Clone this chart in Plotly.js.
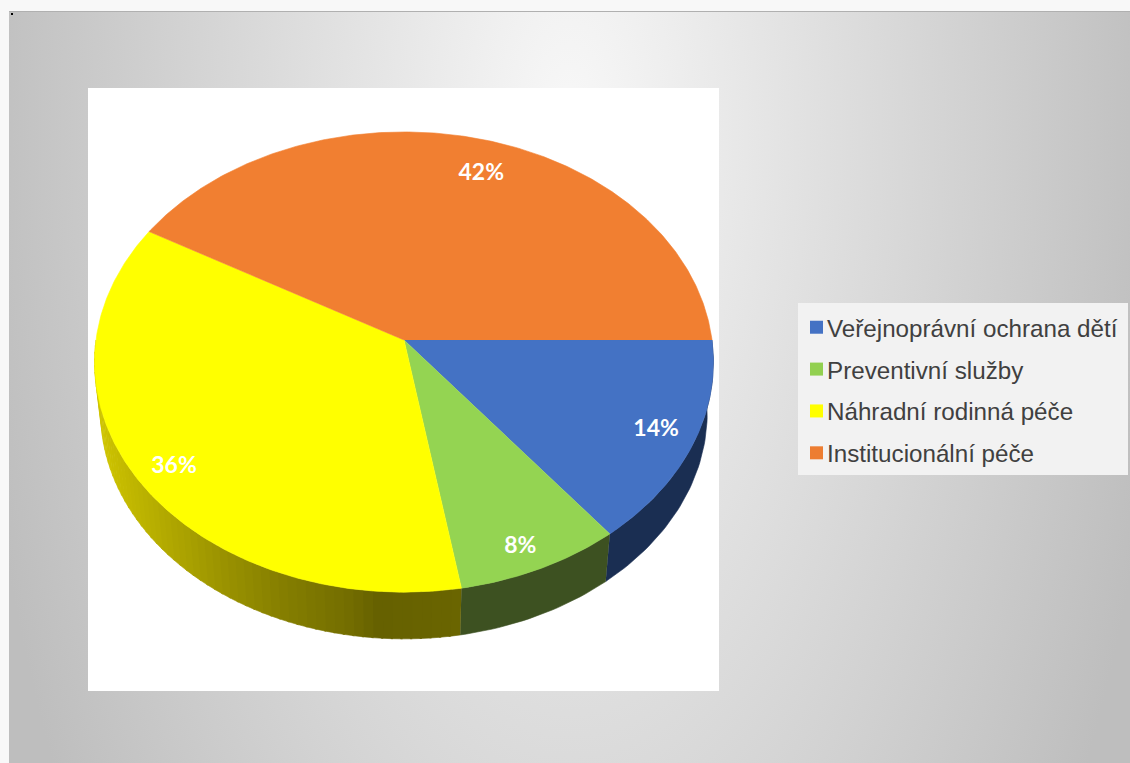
<!DOCTYPE html>
<html lang="cs">
<head>
<meta charset="utf-8">
<script src="https://cdn.plot.ly/plotly-3.0.1.min.js"></script>
<style>
html,body{margin:0;padding:0;background:#f8f8f8;width:1130px;height:763px;overflow:hidden}
#bg{position:absolute;left:9px;top:11px;width:1121px;height:752px;border-top:1px solid #b0b0b0;box-sizing:border-box;
background:radial-gradient(ellipse 600px 1250px at 561px 119px,#f8f8f8 0%,#bebebe 100%)}
#dot{position:absolute;left:11px;top:13px;width:2px;height:2px;background:#000}
#chart{position:absolute;left:0;top:0;width:1130px;height:763px}
</style>
</head>
<body>
<div id="bg"></div><div id="dot"></div><div id="chart"></div>
<script>
// Data
var categories = ['Veřejnoprávní ochrana dětí','Preventivní služby','Náhradní rodinná péče','Institucionální péče'];
var shares = [14.4, 7.9, 36.0, 41.7];
// Styles
var topColors = ['#4472c4','#94d452','#ffff00','#f17f31'];
var legendColors = ['#4472c4','#92d050','#ffff00','#ed7d31'];
var wallColors = ['#1a2e52','#3d5121',null,null];
var yellowWallX = [95,140,223,290,350,377,461];
var yellowWallLevel = [210,190,155,131,115,102,106];
var labelNudgeX = [5,0,-2,14];
var labelNudgeY = [1,13,9,10];

// Perspective of the pie disc
var cx=404, cy=340, f=308, g=228, k=0.0958;
var rimScale=0.98, rimY=0.983, rimShift=51;
function disc(t,r){var X=r*Math.cos(t),Y=r*Math.sin(t),d=1-k*Y;return [cx+f*X/d,cy+g*Y/d];}
function rim(t){var p=disc(t,1);return [cx+rimScale*(p[0]-cx),cy+rimY*(p[1]-cy)+rimShift];}
function level(x){
  for(var i=1;i<yellowWallX.length;i++){ if(x<=yellowWallX[i]){
    var a=(x-yellowWallX[i-1])/(yellowWallX[i]-yellowWallX[i-1]);
    return yellowWallLevel[i-1]+a*(yellowWallLevel[i]-yellowWallLevel[i-1]); } }
  return yellowWallLevel[yellowWallLevel.length-1];
}
var total=shares.reduce(function(a,b){return a+b;},0), bounds=[0];
shares.forEach(function(v){bounds.push(bounds[bounds.length-1]+v/total*2*Math.PI);});

var traces=[];
function poly(xy,color){
  traces.push({type:'scatter',mode:'lines',x:xy.map(function(p){return p[0];}),y:xy.map(function(p){return p[1];}),
    fill:'toself',fillcolor:color,line:{width:0.6,color:color},hoverinfo:'skip',showlegend:false});
}
function wall(t0,t1,color){
  var up=[],down=[],n=Math.max(2,Math.ceil((t1-t0)/0.02));
  for(var i=0;i<=n;i++){var t=t0+(t1-t0)*i/n;up.push(disc(t,1));down.unshift(rim(t));}
  poly(up.concat(down),color);
}
// Side wall: visible front half of the disc
var end=Math.PI;
shares.forEach(function(v,i){
  var a=bounds[i],b=Math.min(bounds[i+1],end);
  if(a>=end) return;
  if(wallColors[i]){wall(a,b,wallColors[i]);}
  else{
    var steps=60;
    for(var s=0;s<steps;s++){
      var t0=a+(b-a)*s/steps,t1=a+(b-a)*(s+1.2)/steps;
      var l=Math.round(level(rim((t0+t1)/2)[0]));
      wall(t0,Math.min(t1,b),'rgb('+l+','+Math.round(l*0.95)+',0)');
    }
  }
});
// Top faces
shares.forEach(function(v,i){
  var pts=[[cx,cy]],a=bounds[i],b=bounds[i+1],n=Math.ceil((b-a)/0.01);
  for(var j=0;j<=n;j++){pts.push(disc(a+(b-a)*j/n,1));}
  poly(pts,topColors[i]);
});
// Percent labels
var lx=[],ly=[],lt=[];
shares.forEach(function(v,i){
  var p=disc((bounds[i]+bounds[i+1])/2,0.86);
  lx.push(p[0]+labelNudgeX[i]);ly.push(p[1]+labelNudgeY[i]);lt.push(Math.round(v/total*100)+'%');
});
traces.push({type:'scatter',mode:'text',x:lx,y:ly,text:lt,textposition:'middle center',
  textfont:{family:'Lato',size:23,color:'#ffffff',weight:700},hoverinfo:'skip',showlegend:false,cliponaxis:false});
// Legend entries
categories.forEach(function(c,i){
  traces.push({type:'scatter',mode:'markers',x:[null],y:[null],name:c,legendgroup:'g'+i,showlegend:true,
    marker:{symbol:'square',size:13,color:legendColors[i]},hoverinfo:'skip'});
});

var layout={
  width:1130,height:763,margin:{l:0,r:0,t:0,b:0,pad:0},
  paper_bgcolor:'rgba(0,0,0,0)',plot_bgcolor:'rgba(0,0,0,0)',
  xaxis:{range:[0,1130],visible:false,fixedrange:true},
  yaxis:{range:[763,0],visible:false,fixedrange:true},
  shapes:[
    {type:'rect',layer:'below',xref:'x',yref:'y',x0:88,x1:719,y0:88,y1:691,fillcolor:'#ffffff',line:{width:0}},
    {type:'rect',layer:'below',xref:'x',yref:'y',x0:798,x1:1128,y0:303,y1:475,fillcolor:'#f2f2f2',line:{width:0}}
  ],
  showlegend:true,
  legend:{x:787/1130,y:1-305/763,xanchor:'left',yanchor:'top',bgcolor:'rgba(0,0,0,0)',borderwidth:0,
    traceorder:'grouped',tracegroupgap:7.4,itemclick:false,itemdoubleclick:false,
    font:{family:'Liberation Sans',size:24.2,color:'#404040'}}
};
Plotly.newPlot('chart',traces,layout,{displayModeBar:false}).then(function(){
  document.querySelectorAll('#chart .legend .legendsymbols').forEach(function(g){g.setAttribute('transform','translate(9.5,0)');});
});
</script>
</body>
</html>
